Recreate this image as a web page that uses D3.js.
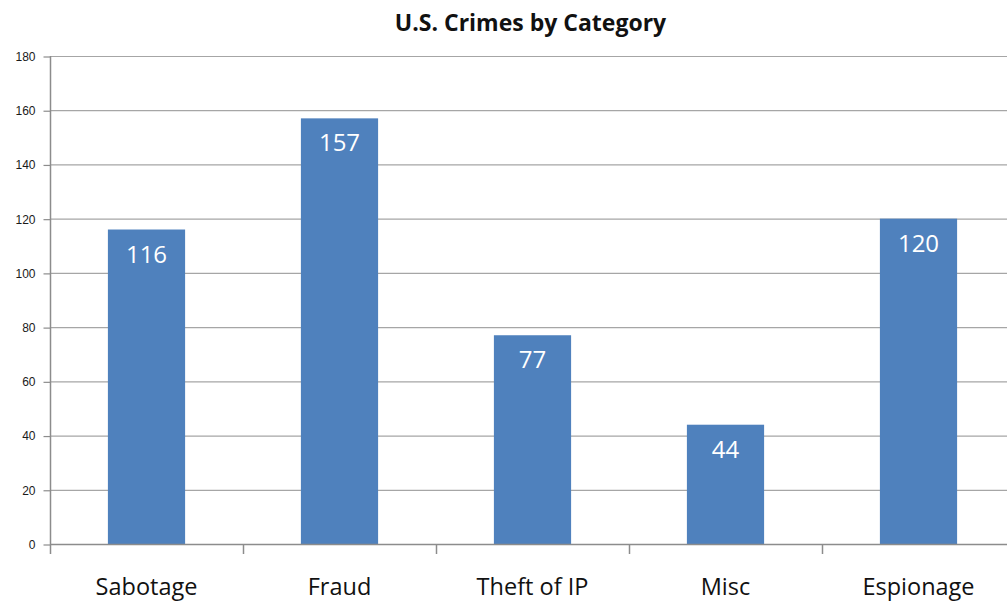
<!DOCTYPE html>
<html>
<head>
<meta charset="utf-8">
<script src="https://cdn.jsdelivr.net/npm/d3@7"></script>
<style>
  html, body { margin: 0; padding: 0; background: #fff; }
  svg { display: block; }
</style>
</head>
<body>
<svg id="chart" width="1007" height="601"></svg>
<script>
// Crime counts per category
const categories = ["Sabotage", "Fraud", "Theft of IP", "Misc", "Espionage"];
const counts = [116, 157, 77, 44, 120];
const yTicks = [0, 20, 40, 60, 80, 100, 120, 140, 160, 180];
const chartTitle = "U.S. Crimes by Category";

const svg = d3.select("#chart");
const plotLeft = 50, plotRight = 1015, plotTop = 56, plotBottom = 544;

const x = d3.scaleBand().domain(categories).range([plotLeft, plotRight]).paddingInner(0.6).paddingOuter(0.3);
const xBand = d3.scaleBand().domain(categories).range([plotLeft, plotRight]);
const y = d3.scaleLinear().domain([0, 180]).range([plotBottom, plotTop]);

// horizontal gridlines
svg.append("g").selectAll("line").data(yTicks.filter(d => d > 0)).join("line")
  .attr("x1", plotLeft).attr("x2", plotRight)
  .attr("y1", d => y(d) + 0.5).attr("y2", d => y(d) + 0.5)
  .attr("stroke", "#a6a6a6").attr("stroke-width", 1.2);

// y axis
const yAxis = d3.axisLeft(y).tickValues(yTicks).tickSize(7).tickPadding(8);
const gy = svg.append("g").attr("transform", `translate(${plotLeft + 0.5},0.5)`).call(yAxis);
gy.select(".domain").remove();
gy.selectAll(".tick line").attr("stroke", "#8c8c8c").attr("stroke-width", 1.2);
gy.selectAll(".tick text").attr("font-family", "'Liberation Sans', Arial, sans-serif")
  .attr("font-size", 12).attr("fill", "#1a1a1a");
svg.append("line").attr("x1", plotLeft + 0.5).attr("x2", plotLeft + 0.5)
  .attr("y1", plotTop).attr("y2", plotBottom + 10)
  .attr("stroke", "#8c8c8c").attr("stroke-width", 1.5);

// bars
svg.append("g").selectAll("rect").data(counts).join("rect")
  .attr("x", (d, i) => x(categories[i]))
  .attr("width", x.bandwidth())
  .attr("y", d => y(d))
  .attr("height", d => y(0) - y(d))
  .attr("fill", "#4f81bd");

// x axis (category boundaries)
svg.append("line").attr("x1", plotLeft).attr("x2", plotRight)
  .attr("y1", plotBottom + 0.5).attr("y2", plotBottom + 0.5)
  .attr("stroke", "#8c8c8c").attr("stroke-width", 1.5);
svg.append("g").selectAll("line").data(categories.slice(1)).join("line")
  .attr("x1", d => xBand(d) + 0.5).attr("x2", d => xBand(d) + 0.5)
  .attr("y1", plotBottom).attr("y2", plotBottom + 10)
  .attr("stroke", "#8c8c8c").attr("stroke-width", 1.5);

// category labels
svg.append("g").selectAll("text").data(categories).join("text")
  .attr("x", d => xBand(d) + xBand.bandwidth() / 2)
  .attr("y", 595)
  .attr("text-anchor", "middle")
  .attr("font-family", "'Open Sans', sans-serif")
  .attr("font-size", 23.5)
  .attr("fill", "#111")
  .text(d => d);

// value labels inside bars
svg.append("g").selectAll("text").data(counts).join("text")
  .attr("x", (d, i) => x(categories[i]) + x.bandwidth() / 2)
  .attr("y", d => y(d) + 33)
  .attr("text-anchor", "middle")
  .attr("font-family", "'Open Sans', sans-serif")
  .attr("font-weight", 500)
  .attr("font-size", 24)
  .attr("fill", "#fff")
  .text(d => d);

// title
svg.append("text")
  .attr("x", (plotLeft + plotRight) / 2 - 2)
  .attr("y", 31)
  .attr("text-anchor", "middle")
  .attr("font-family", "'Open Sans', sans-serif")
  .attr("font-weight", "bold")
  .attr("font-size", 23)
  .attr("fill", "#111")
  .text(chartTitle);
</script>
</body>
</html>
